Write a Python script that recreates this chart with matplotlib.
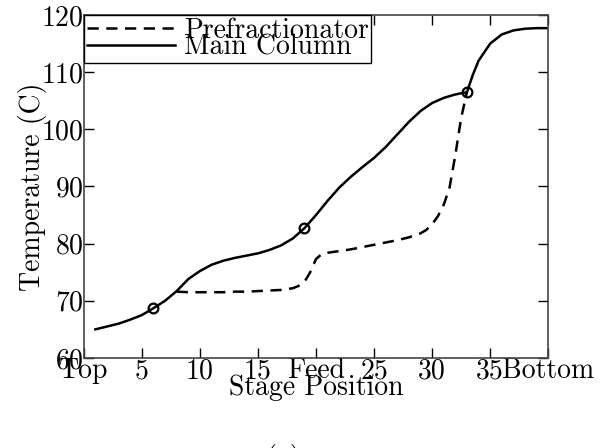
import numpy as np
import matplotlib
matplotlib.use("Agg")
import matplotlib.pyplot as plt

plt.rcParams["font.family"] = "serif"
plt.rcParams["font.serif"] = ["cmr10", "DejaVu Serif"]
plt.rcParams["mathtext.fontset"] = "cm"
plt.rcParams["axes.formatter.use_mathtext"] = True

# main column temperature profile (stage, degC)
main_stage = [1, 2, 3, 4, 5, 6, 7, 8, 9, 10, 11, 12, 13, 14, 15, 16, 17, 18, 19, 20,
              21, 22, 23, 24, 25, 26, 27, 28, 29, 30, 31, 32, 33, 33.5, 34, 35, 36, 37, 38, 39, 40]
main_temp = [65.0, 65.5, 66.0, 66.7, 67.5, 68.7, 70.0, 71.7, 73.8, 75.2, 76.3, 77.0, 77.5, 77.9,
             78.3, 78.9, 79.7, 80.9, 82.7, 85.0, 87.5, 89.8, 91.7, 93.4, 95.0, 96.9, 99.1, 101.3,
             103.2, 104.6, 105.5, 106.1, 106.5, 109.5, 112.0, 115.0, 116.6, 117.3, 117.6, 117.7, 117.7]

# prefractionator profile
pre_stage = [8, 9, 10, 11, 12, 13, 14, 15, 16, 17, 18, 18.5, 19, 19.5, 20, 20.5, 21, 22, 23, 24,
             25, 26, 27, 28, 29, 29.5, 30, 30.5, 31, 31.5, 32, 32.5, 33]
pre_temp = [71.6, 71.5, 71.5, 71.5, 71.5, 71.6, 71.6, 71.7, 71.8, 71.9, 72.2, 72.6, 73.3, 75.0,
            77.3, 78.2, 78.4, 78.7, 79.0, 79.4, 79.8, 80.2, 80.6, 81.1, 81.8, 82.4, 83.4, 84.8,
            86.8, 89.8, 95.5, 102.0, 106.5]

# feed / side-draw points marked on main column
mark_stage = [6, 19, 33]
mark_temp = [68.7, 82.7, 106.5]

xticks = [0, 5, 10, 15, 20, 25, 30, 35, 40]
xlabels = ["Top", "5", "10", "15", "Feed", "25", "30", "35", "Bottom"]
yticks = [60, 70, 80, 90, 100, 110, 120]

fig = plt.figure(figsize=(6.16, 4.48), dpi=100)
ax = fig.add_axes([0.136, 0.201, 0.754, 0.7655])

ax.plot(pre_stage, pre_temp, "k--", lw=1.8, dashes=(4.5, 3), label="Prefractionator")
ax.plot(main_stage, main_temp, "k-", lw=1.8, label="Main Column")
ax.plot(mark_stage, mark_temp, "o", mfc="none", mec="k", ms=7, mew=1.6)

ax.set_xlim(0, 40)
ax.set_ylim(60, 120)
ax.set_xticks(xticks)
ax.set_xticklabels(xlabels)
ax.set_yticks(yticks)
ax.tick_params(direction="in", length=7, width=1, top=True, right=True,
               labelsize=20, pad=0)
for s in ax.spines.values():
    s.set_linewidth(1.2)
    s.set_color("#444444")

ax.set_xlabel("Stage Position", fontsize=20, labelpad=-7)
ax.set_ylabel("Temperature (C)", fontsize=20, labelpad=-4)

leg = ax.legend(loc="upper left", fontsize=20, handlelength=3.2, borderaxespad=0,
                labelspacing=-0.35, borderpad=0.1, handletextpad=0.3, fancybox=False,
                framealpha=1)
leg.get_frame().set_edgecolor("black")
leg.get_frame().set_linewidth(1.0)

# panel caption, cut by the bottom edge as in the source
fig.text(0.46, -0.04, "(a)", fontsize=20, ha="center")

plt.savefig("out.png", dpi=100)
